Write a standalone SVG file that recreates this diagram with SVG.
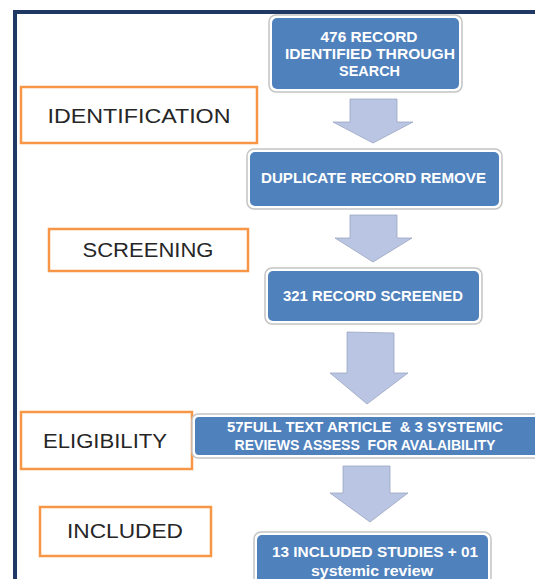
<svg xmlns="http://www.w3.org/2000/svg" width="535" height="579" viewBox="0 0 535 579">
<style>
.frame{fill:none;stroke:#1f3864;stroke-width:4}
.outer{fill:#ffffff;stroke:#c4c4c4;stroke-width:1.5}
.inner{fill:#4f81bd}
.btxt{font-family:"Liberation Sans",Arial,sans-serif;font-weight:bold;font-size:14px;fill:#ffffff;text-anchor:middle}
.pre{white-space:pre}
.stage{fill:#ffffff;stroke:#f79646;stroke-width:2.5}
.stxt{font-family:"Liberation Sans",Arial,sans-serif;font-size:20px;fill:#262626;text-anchor:middle}
.arrow{fill:#b9c5e2;stroke:#9aa6c0;stroke-width:0.8}
</style>
<rect width="535" height="579" fill="#ffffff"/>
<path class="frame" d="M15,579 V12 H535"/>

<g id="stage-identification">
<rect class="stage" x="21" y="87" width="236" height="56"/>
<text class="stxt" x="139" y="123" textLength="183" lengthAdjust="spacingAndGlyphs">IDENTIFICATION</text>
</g>
<g id="stage-screening">
<rect class="stage" x="49" y="229" width="199" height="42"/>
<text class="stxt" x="148" y="257" textLength="131" lengthAdjust="spacingAndGlyphs">SCREENING</text>
</g>
<g id="stage-eligibility">
<rect class="stage" x="21" y="412" width="171" height="57"/>
<text class="stxt" x="105" y="448" textLength="124" lengthAdjust="spacingAndGlyphs">ELIGIBILITY</text>
</g>
<g id="stage-included">
<rect class="stage" x="40" y="507" width="171" height="49"/>
<text class="stxt" x="125" y="538" textLength="116" lengthAdjust="spacingAndGlyphs">INCLUDED</text>
</g>

<g id="node-identified">
<rect class="outer" x="269" y="15" width="193" height="77" rx="7"/>
<rect class="inner" x="272" y="18" width="187" height="71" rx="5"/>
<text class="btxt" x="369" y="42" textLength="97" lengthAdjust="spacingAndGlyphs">476 RECORD</text>
<text class="btxt" x="370" y="59" textLength="170" lengthAdjust="spacingAndGlyphs">IDENTIFIED THROUGH</text>
<text class="btxt" x="369.5" y="76" textLength="61" lengthAdjust="spacingAndGlyphs">SEARCH</text>
</g>
<g id="node-duplicate">
<rect class="outer" x="247" y="149" width="255" height="60" rx="7"/>
<rect class="inner" x="250" y="152" width="249" height="54" rx="5"/>
<text class="btxt" x="373.5" y="183" textLength="225" lengthAdjust="spacingAndGlyphs">DUPLICATE RECORD REMOVE</text>
</g>
<g id="node-screened">
<rect class="outer" x="265" y="268" width="217" height="56" rx="7"/>
<rect class="inner" x="268" y="271" width="211" height="50" rx="5"/>
<text class="btxt" x="373" y="301" textLength="180" lengthAdjust="spacingAndGlyphs">321 RECORD SCREENED</text>
</g>
<g id="node-fulltext">
<rect class="outer" x="192" y="414" width="350" height="44" rx="6"/>
<rect class="inner" x="195" y="417" width="344" height="38" rx="4"/>
<text class="btxt pre" x="365" y="432" textLength="276" lengthAdjust="spacingAndGlyphs">57FULL TEXT ARTICLE  &amp; 3 SYSTEMIC</text>
<text class="btxt pre" x="365" y="449.5" textLength="261" lengthAdjust="spacingAndGlyphs">REVIEWS ASSESS  FOR AVALAIBILITY</text>
</g>
<g id="node-included">
<rect class="outer" x="254" y="532" width="237" height="60" rx="7"/>
<rect class="inner" x="257" y="535" width="231" height="54" rx="5"/>
<text class="btxt" x="375" y="557" textLength="206" lengthAdjust="spacingAndGlyphs">13 INCLUDED STUDIES + 01</text>
<text class="btxt" x="372" y="576" textLength="122" lengthAdjust="spacingAndGlyphs">systemic review</text>
</g>

<g id="connectors">
<polygon class="arrow" points="350,99 397,99 397,122 413,122 373,143 333,122 350,122"/>
<polygon class="arrow" points="350,215 397,215 397,238 412,238 373,262 335,238 350,238"/>
<polygon class="arrow" points="347,332 394,333 394,373 408,373 367,404 330,373 347,373"/>
<polygon class="arrow" points="343,466 390,466 390,493 408,493 370,522 330,493 343,493"/>
</g>
</svg>
